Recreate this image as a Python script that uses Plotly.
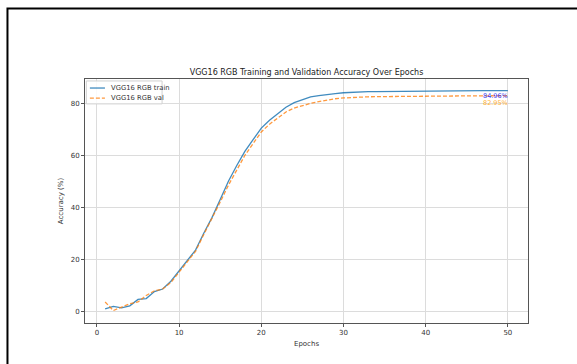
import plotly.graph_objects as go

epochs = list(range(1, 51))
train_acc = [0.8, 1.8, 1.2, 2.0, 4.5, 4.8, 7.5, 8.5, 11.5, 15.5,
             19.5, 23.5, 30.0, 36.0, 43.0, 50.0, 56.0, 61.5, 66.0, 70.5,
             73.5, 76.0, 78.5, 80.3, 81.3, 82.5, 83.0, 83.5, 83.8, 84.1,
             84.3, 84.4, 84.5, 84.55, 84.6, 84.65, 84.7, 84.7, 84.75, 84.75,
             84.8, 84.8, 84.85, 84.85, 84.9, 84.9, 84.92, 84.94, 84.95, 84.96]
val_acc = [3.5, 0.2, 1.5, 2.8, 3.5, 6.0, 7.8, 8.5, 11.0, 15.0,
           19.0, 23.0, 29.5, 35.5, 42.0, 48.5, 54.5, 60.0, 64.5, 69.0,
           72.0, 74.5, 76.7, 78.2, 79.2, 80.0, 80.7, 81.3, 81.8, 82.1,
           82.3, 82.45, 82.55, 82.6, 82.65, 82.7, 82.75, 82.75, 82.8, 82.8,
           82.85, 82.85, 82.88, 82.9, 82.9, 82.92, 82.93, 82.94, 82.95, 82.95]
series_names = ["VGG16 RGB train", "VGG16 RGB val"]
final_labels = ["84.96%", "82.95%"]
title_text = "VGG16 RGB Training and Validation Accuracy Over Epochs"
x_ticks = [0, 10, 20, 30, 40, 50]
y_ticks = [0, 20, 40, 60, 80]

FONT = "DejaVu Sans"
COLORS = ["rgba(31,119,180,0.85)", "rgba(255,127,14,0.8)"]
DASHES = ["solid", "4px,2px"]

fig = go.Figure()
for name, ys, c, d in zip(series_names, [train_acc, val_acc], COLORS, DASHES):
    fig.add_trace(go.Scatter(x=epochs, y=ys, mode="lines", name=name,
                             line=dict(color=c, width=1.3, dash=d), showlegend=False))

# end-value labels
fig.add_annotation(x=epochs[-1], y=train_acc[-1], text=final_labels[0], showarrow=False,
                   xanchor="right", yanchor="top", xshift=2, yshift=1,
                   font=dict(color="#3b3bf0", size=6.5, family=FONT))
fig.add_annotation(x=epochs[-1], y=val_acc[-1], text=final_labels[1], showarrow=False,
                   xanchor="right", yanchor="top", xshift=2, yshift=-1,
                   font=dict(color="#ffb030", size=6.5, family=FONT))

# compact legend (matplotlib-like)
fig.add_shape(type="rect", xref="paper", yref="paper", x0=0.003, x1=0.174, y0=0.898, y1=0.992,
              line=dict(color="#d0d0d0", width=1), fillcolor="rgba(255,255,255,0.85)", layer="above")
for i, (name, c, d) in enumerate(zip(series_names, COLORS, DASHES)):
    yy = 0.963 - i * 0.041
    fig.add_shape(type="line", xref="paper", yref="paper", x0=0.011, x1=0.045, y0=yy, y1=yy,
                  line=dict(color=c, width=1.3, dash=d), layer="above")
    fig.add_annotation(xref="paper", yref="paper", x=0.054, y=yy, text=name, showarrow=False,
                       xanchor="left", yanchor="middle",
                       font=dict(size=6.8, family=FONT, color="#333"))

# outer frame
fig.add_shape(type="rect", xref="paper", yref="paper",
              x0=-0.175, x1=1.3, y0=-0.5, y1=1.289,
              line=dict(color="black", width=2), fillcolor="rgba(0,0,0,0)", layer="above")

axis_common = dict(showline=True, linecolor="#555", linewidth=1, mirror=True,
                   ticks="outside", ticklen=3, tickcolor="#555",
                   showgrid=True, gridcolor="#dcdcdc", gridwidth=1, zeroline=False,
                   tickfont=dict(size=7, family=FONT, color="#333"))
fig.update_xaxes(range=[-1.45, 52.45], tickvals=x_ticks,
                 title=dict(text="Epochs", font=dict(size=7, family=FONT, color="#333"), standoff=4),
                 **axis_common)
fig.update_yaxes(range=[-4.6, 89.4], tickvals=y_ticks,
                 title=dict(text="Accuracy (%)", font=dict(size=7, family=FONT, color="#333"), standoff=6),
                 **axis_common)

fig.update_layout(
    width=577, height=364,
    margin=dict(l=85, r=49, t=79, b=41),
    paper_bgcolor="white", plot_bgcolor="white",
    title=dict(text=title_text, xref="paper", x=0.5, xanchor="center",
               y=1 - 72 / 364, yanchor="middle",
               font=dict(size=8, family=FONT, color="#222")),
    showlegend=False,
)

fig.write_html("out.html")
